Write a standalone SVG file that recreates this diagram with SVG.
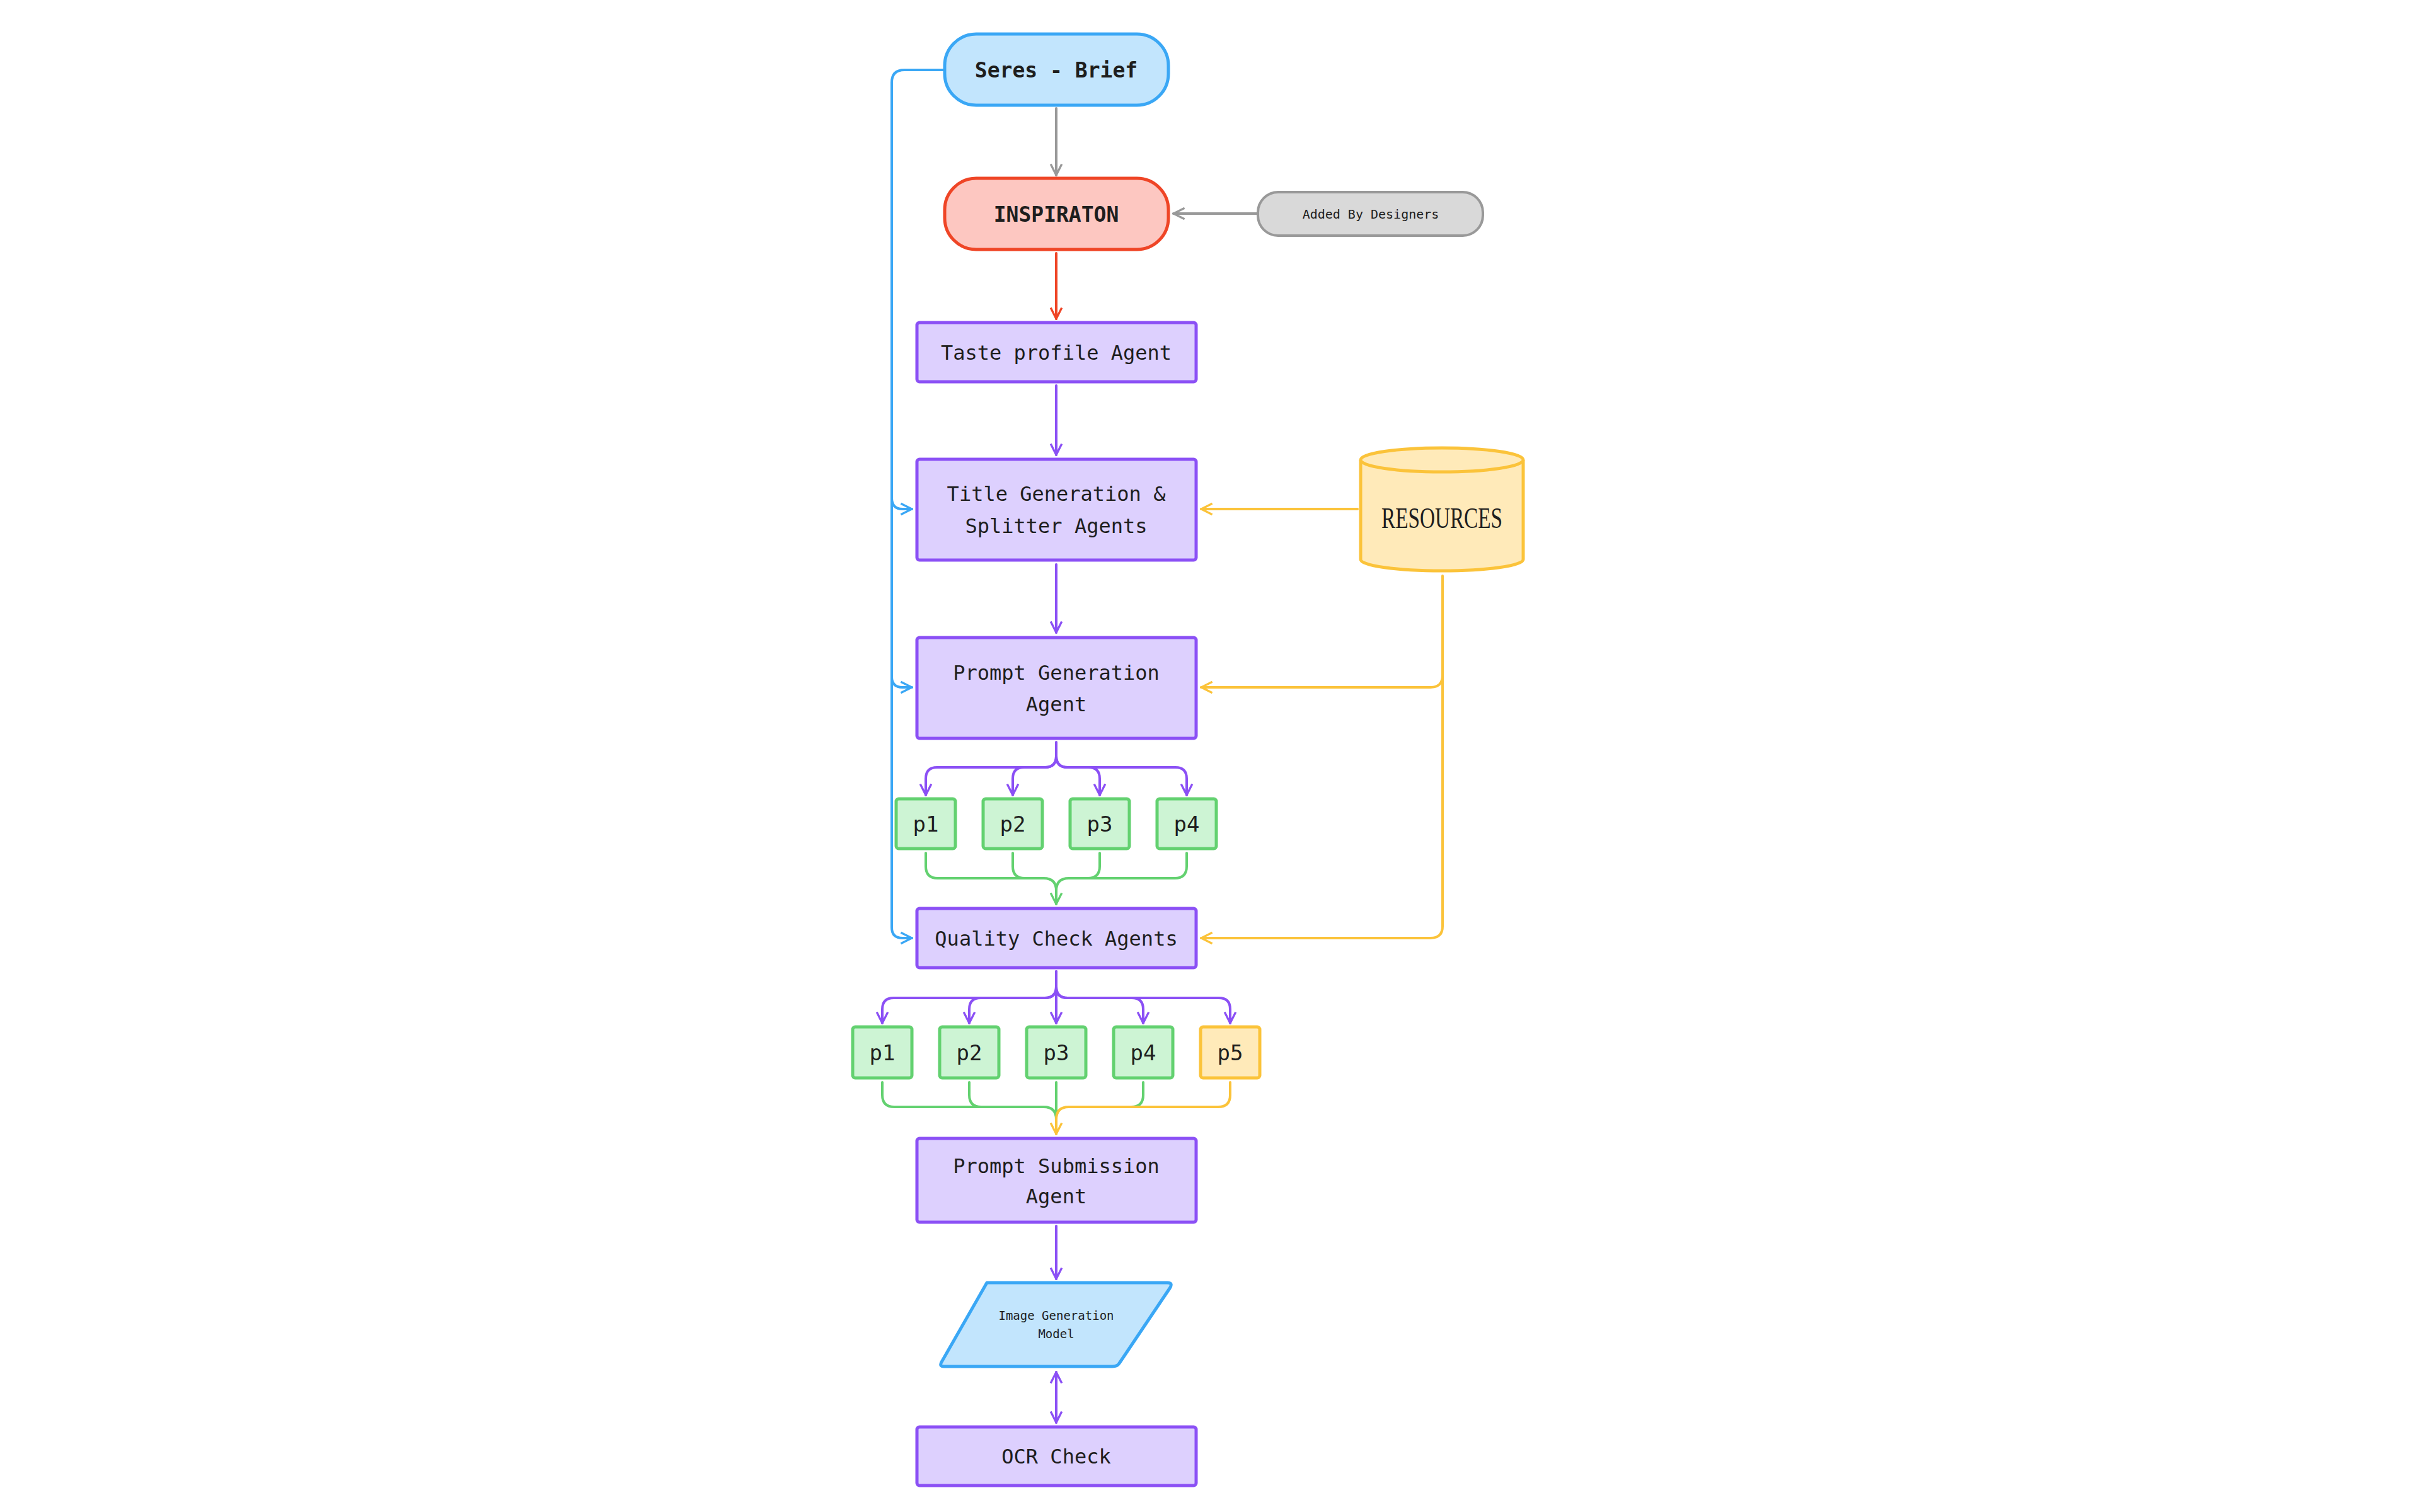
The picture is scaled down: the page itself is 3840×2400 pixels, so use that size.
<svg xmlns="http://www.w3.org/2000/svg" width="3840" height="2400" viewBox="0 0 3840 2400">
<defs>
<style>
.t{font-family:"DejaVu Sans Mono","Liberation Mono",monospace;fill:#1e1e1e;text-anchor:middle;dominant-baseline:central}
.c{fill:none;stroke-width:4;stroke-linecap:round;stroke-linejoin:round}
.pu{fill:#ddd0fe;stroke:#8b50f5;stroke-width:5}
.gr{fill:#cdf4d4;stroke:#63d170;stroke-width:5}
.ye{fill:#ffeab9;stroke:#fbc33a;stroke-width:5}
</style>
<marker id="aP" viewBox="0 0 20 20" refX="18" refY="10" markerWidth="22" markerHeight="22" markerUnits="userSpaceOnUse" orient="auto-start-reverse"><path d="M2,2 L18,10 L2,18" fill="none" stroke="#8b50f5" stroke-width="3"/></marker>
<marker id="aG" viewBox="0 0 20 20" refX="18" refY="10" markerWidth="22" markerHeight="22" markerUnits="userSpaceOnUse" orient="auto"><path d="M2,2 L18,10 L2,18" fill="none" stroke="#999" stroke-width="3"/></marker>
<marker id="aR" viewBox="0 0 20 20" refX="18" refY="10" markerWidth="22" markerHeight="22" markerUnits="userSpaceOnUse" orient="auto"><path d="M2,2 L18,10 L2,18" fill="none" stroke="#ef4526" stroke-width="3"/></marker>
<marker id="aB" viewBox="0 0 20 20" refX="18" refY="10" markerWidth="22" markerHeight="22" markerUnits="userSpaceOnUse" orient="auto"><path d="M2,2 L18,10 L2,18" fill="none" stroke="#3aa7f5" stroke-width="3"/></marker>
<marker id="aY" viewBox="0 0 20 20" refX="18" refY="10" markerWidth="22" markerHeight="22" markerUnits="userSpaceOnUse" orient="auto"><path d="M2,2 L18,10 L2,18" fill="none" stroke="#fbc33a" stroke-width="3"/></marker>
<marker id="aGr" viewBox="0 0 20 20" refX="18" refY="10" markerWidth="22" markerHeight="22" markerUnits="userSpaceOnUse" orient="auto"><path d="M2,2 L18,10 L2,18" fill="none" stroke="#63d170" stroke-width="3"/></marker>
</defs>
<rect width="3840" height="2400" fill="#fff"/>
<g id="connectors">
<path class="c" stroke="#999" d="M1676 172 V278" marker-end="url(#aG)"/>
<path class="c" stroke="#999" d="M1994 339 H1862" marker-end="url(#aG)"/>
<path class="c" stroke="#ef4526" d="M1676 402 V506" marker-end="url(#aR)"/>
<path class="c" stroke="#8b50f5" d="M1676 612 V722" marker-end="url(#aP)"/>
<path class="c" stroke="#8b50f5" d="M1676 896 V1004" marker-end="url(#aP)"/>
<path class="c" stroke="#3aa7f5" d="M1497 111 H1435 Q1415 111 1415 131 V1472 Q1415 1489 1432 1489 H1447" marker-end="url(#aB)"/>
<path class="c" stroke="#3aa7f5" d="M1415 790 Q1415 808 1432 808 H1447" marker-end="url(#aB)"/>
<path class="c" stroke="#3aa7f5" d="M1415 1074 Q1415 1091 1432 1091 H1447" marker-end="url(#aB)"/>
<path class="c" stroke="#fbc33a" d="M2154 808 H1906" marker-end="url(#aY)"/>
<path class="c" stroke="#fbc33a" d="M2289 914 V1470 Q2289 1489 2270 1489 H1906" marker-end="url(#aY)"/>
<path class="c" stroke="#fbc33a" d="M2289 1072 Q2289 1091 2270 1091 H1906" marker-end="url(#aY)"/>
<g stroke="#8b50f5">
<path class="c" d="M1676 1178 V1200 Q1676 1218 1658 1218 H1487 Q1469 1218 1469 1236 V1262" marker-end="url(#aP)"/>
<path class="c" d="M1676 1200 Q1676 1218 1658 1218 H1625 Q1607 1218 1607 1236 V1262" marker-end="url(#aP)"/>
<path class="c" d="M1676 1200 Q1676 1218 1694 1218 H1727 Q1745 1218 1745 1236 V1262" marker-end="url(#aP)"/>
<path class="c" d="M1676 1200 Q1676 1218 1694 1218 H1865 Q1883 1218 1883 1236 V1262" marker-end="url(#aP)"/>
</g>
<g stroke="#63d170">
<path class="c" d="M1469 1354 V1375 Q1469 1394 1488 1394 H1656 Q1676 1394 1676 1414 V1435" marker-end="url(#aGr)"/>
<path class="c" d="M1607 1354 V1375 Q1607 1394 1626 1394 H1656"/>
<path class="c" d="M1745 1354 V1375 Q1745 1394 1726 1394 H1696"/>
<path class="c" d="M1883 1354 V1375 Q1883 1394 1864 1394 H1696 Q1676 1394 1676 1414"/>
</g>
<g stroke="#8b50f5">
<path class="c" d="M1676 1542 V1566 Q1676 1584 1658 1584 H1418 Q1400 1584 1400 1602 V1624" marker-end="url(#aP)"/>
<path class="c" d="M1676 1566 Q1676 1584 1658 1584 H1556 Q1538 1584 1538 1602 V1624" marker-end="url(#aP)"/>
<path class="c" d="M1676 1542 V1624" marker-end="url(#aP)"/>
<path class="c" d="M1676 1566 Q1676 1584 1694 1584 H1796 Q1814 1584 1814 1602 V1624" marker-end="url(#aP)"/>
<path class="c" d="M1676 1566 Q1676 1584 1694 1584 H1934 Q1952 1584 1952 1602 V1624" marker-end="url(#aP)"/>
</g>
<path class="c" stroke="#63d170" d="M1400 1718 V1738 Q1400 1757 1419 1757 H1656 Q1676 1757 1676 1777"/>
<path class="c" stroke="#63d170" d="M1538 1718 V1738 Q1538 1757 1557 1757 H1620"/>
<path class="c" stroke="#63d170" d="M1676 1718 V1790"/>
<path class="c" stroke="#63d170" d="M1814 1718 V1738 Q1814 1757 1795 1757 H1740"/>
<path class="c" stroke="#fbc33a" d="M1952 1718 V1738 Q1952 1757 1933 1757 H1696 Q1676 1757 1676 1777 V1800" marker-end="url(#aY)"/>
<path class="c" stroke="#8b50f5" d="M1676 1946 V2030" marker-end="url(#aP)"/>
<path class="c" stroke="#8b50f5" d="M1676 2178 V2258" marker-start="url(#aP)" marker-end="url(#aP)"/>
</g>
<g id="seres"><rect x="1499" y="54" width="355" height="113" rx="50" fill="#c2e5fd" stroke="#3aa7f5" stroke-width="5"/><text class="t" x="1676" y="111" font-size="33" font-weight="bold">Seres - Brief</text></g>
<g id="inspiration"><rect x="1499" y="283" width="355" height="113" rx="50" fill="#fdc7c1" stroke="#ef4526" stroke-width="5"/><text class="t" x="1676" y="340" font-size="33" font-weight="bold">INSPIRATON</text></g>
<g id="designers"><rect x="1996" y="305" width="357" height="69" rx="32" fill="#d9d9d9" stroke="#999" stroke-width="4"/><text class="t" x="2175" y="340" font-size="20">Added By Designers</text></g>
<g id="taste"><rect class="pu" x="1455" y="512" width="443" height="94" rx="4"/><text class="t" x="1676" y="560" font-size="32">Taste profile Agent</text></g>
<g id="title"><rect class="pu" x="1455" y="729" width="443" height="160" rx="4"/><text class="t" x="1676" y="784" font-size="32">Title Generation &amp;</text><text class="t" x="1676" y="835" font-size="32">Splitter Agents</text></g>
<g id="resources"><path d="M2159 730 V888 A129 18 0 0 0 2417 888 V730" fill="#ffeab9" stroke="#fbc33a" stroke-width="5"/><ellipse cx="2288" cy="730" rx="129" ry="19" fill="#ffeab9" stroke="#fbc33a" stroke-width="5"/><text x="2288" y="838" font-family="Liberation Serif,serif" font-size="46" text-anchor="middle" textLength="192" lengthAdjust="spacingAndGlyphs" fill="#1e1e1e">RESOURCES</text></g>
<g id="promptgen"><rect class="pu" x="1455" y="1012" width="443" height="160" rx="4"/><text class="t" x="1676" y="1068" font-size="32">Prompt Generation</text><text class="t" x="1676" y="1118" font-size="32">Agent</text></g>
<g id="a1"><rect class="gr" x="1422" y="1268" width="94" height="79" rx="4"/><text class="t" x="1469" y="1308" font-size="34">p1</text></g>
<g id="a2"><rect class="gr" x="1560" y="1268" width="94" height="79" rx="4"/><text class="t" x="1607" y="1308" font-size="34">p2</text></g>
<g id="a3"><rect class="gr" x="1698" y="1268" width="94" height="79" rx="4"/><text class="t" x="1745" y="1308" font-size="34">p3</text></g>
<g id="a4"><rect class="gr" x="1836" y="1268" width="94" height="79" rx="4"/><text class="t" x="1883" y="1308" font-size="34">p4</text></g>
<g id="qc"><rect class="pu" x="1455" y="1442" width="443" height="94" rx="4"/><text class="t" x="1676" y="1490" font-size="32">Quality Check Agents</text></g>
<g id="b1"><rect class="gr" x="1353" y="1630" width="94" height="81" rx="4"/><text class="t" x="1400" y="1671" font-size="34">p1</text></g>
<g id="b2"><rect class="gr" x="1491" y="1630" width="94" height="81" rx="4"/><text class="t" x="1538" y="1671" font-size="34">p2</text></g>
<g id="b3"><rect class="gr" x="1629" y="1630" width="94" height="81" rx="4"/><text class="t" x="1676" y="1671" font-size="34">p3</text></g>
<g id="b4"><rect class="gr" x="1767" y="1630" width="94" height="81" rx="4"/><text class="t" x="1814" y="1671" font-size="34">p4</text></g>
<g id="b5"><rect class="ye" x="1905" y="1630" width="94" height="81" rx="4"/><text class="t" x="1952" y="1671" font-size="34">p5</text></g>
<g id="submission"><rect class="pu" x="1455" y="1807" width="443" height="133" rx="4"/><text class="t" x="1676" y="1851" font-size="32">Prompt Submission</text><text class="t" x="1676" y="1899" font-size="32">Agent</text></g>
<g id="imagegen"><path d="M1566 2036 H1852 Q1862 2036 1856 2045 L1776 2164 Q1773 2169 1765 2169 H1498 Q1490 2169 1494 2162 Z" fill="#c2e5fd" stroke="#3aa7f5" stroke-width="5" stroke-linejoin="round"/><text class="t" x="1676" y="2088" font-size="19">Image Generation</text><text class="t" x="1676" y="2117" font-size="19">Model</text></g>
<g id="ocr"><rect class="pu" x="1455" y="2265" width="443" height="93" rx="4"/><text class="t" x="1676" y="2312" font-size="32">OCR Check</text></g>
</svg>
